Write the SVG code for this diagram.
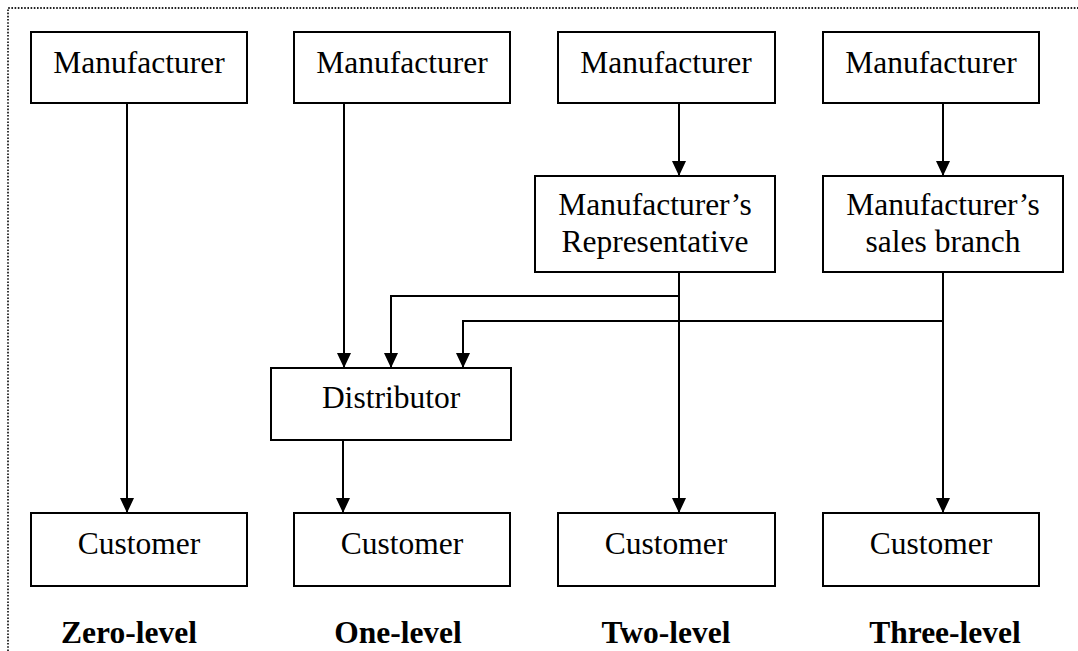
<svg xmlns="http://www.w3.org/2000/svg" width="1078" height="651" viewBox="0 0 1078 651">
<style>
.box{fill:#fff;stroke:#000;stroke-width:2}
.t{font-family:"Liberation Serif","Times New Roman",serif;font-size:31.5px;fill:#000;text-anchor:middle}
.b{font-weight:bold}
.c{fill:none;stroke:#000;stroke-width:2}
.border{fill:none;stroke:#222;stroke-width:1.8;stroke-dasharray:1.6 1.6}
</style>
<defs>
<marker id="ah" markerUnits="userSpaceOnUse" markerWidth="15" markerHeight="14" refX="15" refY="7" orient="auto">
<path d="M0,0 L15,7 L0,14 z" fill="#000"/>
</marker>
</defs>
<rect width="1078" height="651" fill="#fff"/>
<path class="border" d="M8,651 L8,8 L1078,8"/>
<g id="connectors">
<path class="c" d="M127,103 L127,513" marker-end="url(#ah)"/>
<path class="c" d="M344,103 L344,368" marker-end="url(#ah)"/>
<path class="c" d="M679,103 L679,176" marker-end="url(#ah)"/>
<path class="c" d="M943,103 L943,176" marker-end="url(#ah)"/>
<path class="c" d="M679,272 L679,513" marker-end="url(#ah)"/>
<path class="c" d="M943,272 L943,513" marker-end="url(#ah)"/>
<path class="c" d="M679,296 L391,296 L391,368" marker-end="url(#ah)"/>
<path class="c" d="M943,321 L463,321 L463,368" marker-end="url(#ah)"/>
<path class="c" d="M343,440 L343,513" marker-end="url(#ah)"/>
</g>
<g id="manufacturer1"><rect class="box" x="31" y="32" width="216" height="71"/><text class="t" x="139" y="73">Manufacturer</text></g>
<g id="manufacturer2"><rect class="box" x="294" y="32" width="216" height="71"/><text class="t" x="402" y="73">Manufacturer</text></g>
<g id="manufacturer3"><rect class="box" x="558" y="32" width="217" height="71"/><text class="t" x="666" y="73">Manufacturer</text></g>
<g id="manufacturer4"><rect class="box" x="823" y="32" width="216" height="71"/><text class="t" x="931" y="73">Manufacturer</text></g>
<g id="representative"><rect class="box" x="535" y="176" width="240" height="96"/><text class="t" x="655" y="215">Manufacturer’s</text><text class="t" x="655" y="252">Representative</text></g>
<g id="salesbranch"><rect class="box" x="823" y="176" width="240" height="96"/><text class="t" x="943" y="215">Manufacturer’s</text><text class="t" x="943" y="252">sales branch</text></g>
<g id="distributor"><rect class="box" x="271" y="368" width="240" height="72"/><text class="t" x="391" y="408">Distributor</text></g>
<g id="customer1"><rect class="box" x="31" y="513" width="216" height="73"/><text class="t" x="139" y="554">Customer</text></g>
<g id="customer2"><rect class="box" x="294" y="513" width="216" height="73"/><text class="t" x="402" y="554">Customer</text></g>
<g id="customer3"><rect class="box" x="558" y="513" width="217" height="73"/><text class="t" x="666" y="554">Customer</text></g>
<g id="customer4"><rect class="box" x="823" y="513" width="216" height="73"/><text class="t" x="931" y="554">Customer</text></g>
<g id="labels">
<text class="t b" x="129" y="643">Zero-level</text>
<text class="t b" x="398" y="643">One-level</text>
<text class="t b" x="666" y="643">Two-level</text>
<text class="t b" x="945" y="643">Three-level</text>
</g>
</svg>
